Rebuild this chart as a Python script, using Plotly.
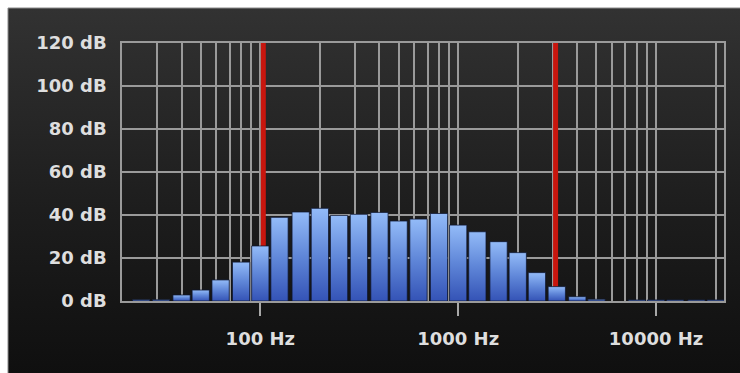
import base64
import numpy as np
import plotly.graph_objects as go

# One-third-octave band centres (Hz) and their measured levels (dB)
band_hz = [25, 31.5, 40, 50, 63, 80, 100, 125, 160, 200, 250, 315, 400, 500, 630,
           800, 1000, 1250, 1600, 2000, 2500, 3150, 4000, 5000, 6300, 8000, 10000,
           12500, 16000, 20000]
level_db = [0.6, 0.6, 2.8, 5.1, 9.8, 18.1, 25.6, 38.9, 41.4, 43.1, 39.8, 40.3, 41.2,
            37.2, 38.1, 40.7, 35.3, 32.2, 27.6, 22.5, 13.2, 6.7, 2.0, 0.8, 0.0, 0.5,
            0.5, 0.5, 0.5, 0.5]

# Filter cut-off markers (Hz)
cutoff_hz = [100, 3000]

# Axis extents and ticks
f_min, f_max = 20, 22050
major_hz = [100, 1000, 10000]
grid_hz = [m * d for d in (10, 100, 1000) for m in range(2, 10)] + [20000]
db_ticks = [0, 20, 40, 60, 80, 100, 120]

FONT = dict(family="DejaVu Sans", size=18, color="#dedede", weight="bold")
GRID = "#9a9a9a"

fig = go.Figure()

# Each band is drawn as a filled polygon in log-frequency space so it can carry
# its own bottom-to-top blue gradient.
third_oct = np.log10(2) / 3
half_w = 0.87 * third_oct / 2
for f, v in zip(band_hz, level_db):
    if v <= 0:
        continue
    c = np.log10(f)
    fig.add_trace(go.Scatter(
        x=[c - half_w, c - half_w, c + half_w, c + half_w, c - half_w],
        y=[0, v, v, 0, 0],
        mode="lines",
        fill="toself",
        fillgradient=dict(type="vertical",
                          colorscale=[[0, "#3453b6"], [0.5, "#5f86d8"], [1, "#93bbf8"]]),
        line=dict(color="rgba(14,22,48,0.75)", width=1),
        hoverinfo="skip",
        showlegend=False,
    ))

# Red cut-off markers, drawn under the bars
for f in cutoff_hz:
    fig.add_shape(type="rect", xref="x", yref="y", xsizemode="pixel",
                  xanchor=np.log10(f), x0=0.5, x1=5.5, y0=0, y1=120,
                  fillcolor="#c8160e", line=dict(width=0), layer="between")

# Dark vertical gradient panel behind the whole chart
svg = ('<svg xmlns="http://www.w3.org/2000/svg" width="732" height="365" '
       'preserveAspectRatio="none"><defs><linearGradient id="g" x1="0" y1="0" '
       'x2="0" y2="1"><stop offset="0" stop-color="#323232"/>'
       '<stop offset="0.55" stop-color="#1d1d1d"/>'
       '<stop offset="1" stop-color="#0f0f0f"/></linearGradient></defs>'
       '<rect width="100%" height="100%" fill="url(#g)"/></svg>')
src = "data:image/svg+xml;base64," + base64.b64encode(svg.encode()).decode()

W, H = 740, 373
ml, mr, mt, mb = 122, 16, 43, 72
pw, ph = W - ml - mr, H - mt - mb
px = lambda p: (p - ml) / pw
py = lambda p: (H - mb - p) / ph

fig.add_layout_image(dict(source=src, xref="paper", yref="paper",
                          x=px(8), y=py(8), sizex=px(W + 2) - px(8),
                          sizey=py(8) - py(H + 2), xanchor="left", yanchor="top",
                          sizing="stretch", layer="below"))
fig.add_shape(type="rect", xref="paper", yref="paper",
              x0=px(8), x1=px(W + 5), y0=py(H + 5), y1=py(8),
              line=dict(color="#8a8a8a", width=1), fillcolor="rgba(0,0,0,0)",
              layer="above")

fig.update_layout(
    width=W, height=H, autosize=False,
    margin=dict(l=ml, r=mr, t=mt, b=mb, pad=0),
    paper_bgcolor="white",
    plot_bgcolor="rgba(0,0,0,0)",
    showlegend=False,
    xaxis=dict(
        range=[np.log10(f_min), np.log10(f_max)],
        tickmode="array",
        tickvals=np.log10(major_hz),
        ticktext=[f"{f} Hz" for f in major_hz],
        ticks="outside", ticklen=13, tickwidth=2, tickcolor="#a8a8a8",
        showgrid=True, gridcolor=GRID, gridwidth=1.5,
        minor=dict(tickmode="array", tickvals=np.log10(grid_hz),
                   showgrid=True, gridcolor=GRID, gridwidth=1.5, ticks=""),
        showline=True, linecolor=GRID, linewidth=1.5, mirror=True,
        zeroline=False, tickfont=FONT, ticklabelstandoff=8,
    ),
    yaxis=dict(
        range=[0, 120],
        tickmode="array",
        tickvals=db_ticks,
        ticktext=[f"{v} dB" for v in db_ticks],
        showgrid=True, gridcolor=GRID, gridwidth=1.5,
        showline=True, linecolor=GRID, linewidth=1.5, mirror=True,
        zeroline=False, tickfont=FONT, ticklabelstandoff=10,
    ),
)

fig.write_html("out.html")
